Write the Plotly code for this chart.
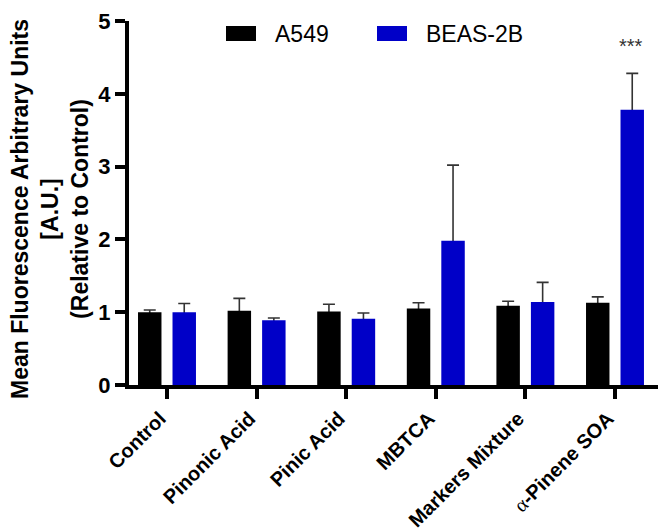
import plotly.graph_objects as go

# ---- data ----
categories = ["Control", "Pinonic Acid", "Pinic Acid", "MBTCA", "Markers Mixture", "α-Pinene SOA"]
tick_labels = ["Control", "Pinonic Acid", "Pinic Acid", "MBTCA", "Markers Mixture",
               '<span style="font-family:Liberation Serif;font-weight:normal">α</span>-Pinene SOA']
a549 = [1.00, 1.02, 1.01, 1.05, 1.09, 1.13]
a549_err = [0.03, 0.17, 0.10, 0.08, 0.06, 0.08]
beas = [1.00, 0.89, 0.91, 1.98, 1.14, 3.78]
beas_err = [0.12, 0.03, 0.08, 1.04, 0.27, 0.50]
series_names = ["A549", "BEAS-2B"]
sig_label = "***"
sig_value = 4.65
y_title = "Mean Fluorescence Arbitrary Units<br>[A.U.]<br>(Relative to Control)"

# ---- layout constants ----
W, H = 666, 531
L, R, T, B = 121, 16, 13, 154
FONT = "Liberation Sans, Arial, sans-serif"
BLACK = "#000000"
BLUE = "#0000C8"
ERR = "#333333"

fig = go.Figure()

# error bars first (drawn beneath the bars, so only the upper half shows)
for vals, errs, grp in [(a549, a549_err, "a"), (beas, beas_err, "b")]:
    fig.add_trace(go.Bar(
        x=categories, y=vals, offsetgroup=grp,
        marker=dict(color="rgba(0,0,0,0)", line=dict(width=0)),
        error_y=dict(type="data", array=errs, color=ERR, thickness=1.6, width=6),
        hoverinfo="skip", showlegend=False))

fig.add_trace(go.Bar(
    x=categories, y=a549, name=series_names[0], offsetgroup="a",
    marker=dict(color=BLACK, line=dict(width=0)), showlegend=False))
fig.add_trace(go.Bar(
    x=categories, y=beas, name=series_names[1], offsetgroup="b",
    marker=dict(color=BLUE, line=dict(width=0)), showlegend=False))

plot_w = W - L - R
plot_h = H - T - B

def px_x(p):
    return (p - L) / plot_w

def px_y(p):
    return 1 - (p - T) / plot_h

# custom legend (swatches + labels)
shapes = []
annotations = []
legend_items = [(series_names[0], BLACK, 218, 265), (series_names[1], BLUE, 369, 416)]
for name, col, sx, tx in legend_items:
    shapes.append(dict(type="rect", xref="paper", yref="paper",
                       x0=px_x(sx), x1=px_x(sx + 30), y0=px_y(33), y1=px_y(18),
                       fillcolor=col, line=dict(width=0)))
    annotations.append(dict(xref="paper", yref="paper", x=px_x(tx), y=px_y(26),
                            xanchor="left", yanchor="middle", text=name, showarrow=False,
                            font=dict(family=FONT, size=23, color=BLACK)))

annotations.append(dict(x=categories[-1], y=sig_value, xref="x", yref="y", xshift=16,
                        text=sig_label, showarrow=False, yanchor="middle",
                        font=dict(family=FONT, size=20, color=ERR)))

# y-axis title
annotations.append(dict(xref="paper", yref="paper", x=px_x(42), y=px_y(201),
                        xanchor="center", yanchor="middle", textangle=-90,
                        text=y_title, showarrow=False,
                        font=dict(family=FONT, size=23, color=BLACK, weight="bold")))

fig.update_layout(
    width=W, height=H,
    margin=dict(l=L, r=R, t=T, b=B, autoexpand=False),
    paper_bgcolor="white", plot_bgcolor="white",
    barmode="group", bargap=0.23, bargroupgap=0.32,
    font=dict(family=FONT, color=BLACK),
    shapes=shapes, annotations=annotations,
    showlegend=False,
)
fig.update_xaxes(
    type="category", range=[-0.424, 5.48],
    tickmode="array", tickvals=categories, ticktext=tick_labels,
    tickangle=-45, tickfont=dict(family=FONT, size=20, color=BLACK, weight="bold"),
    ticklabelshift=-7,
    showline=True, linecolor=BLACK, linewidth=4,
    ticks="outside", ticklen=10, tickwidth=4, tickcolor=BLACK,
    showgrid=False, zeroline=False, automargin=False,
)
fig.update_yaxes(
    range=[0, 5], tickvals=[0, 1, 2, 3, 4, 5],
    tickfont=dict(family=FONT, size=22, color=BLACK, weight="bold"),
    showline=True, linecolor=BLACK, linewidth=4,
    ticks="outside", ticklen=10, tickwidth=4, tickcolor=BLACK,
    showgrid=False, zeroline=False, automargin=False,
)

fig.write_html("out.html")
